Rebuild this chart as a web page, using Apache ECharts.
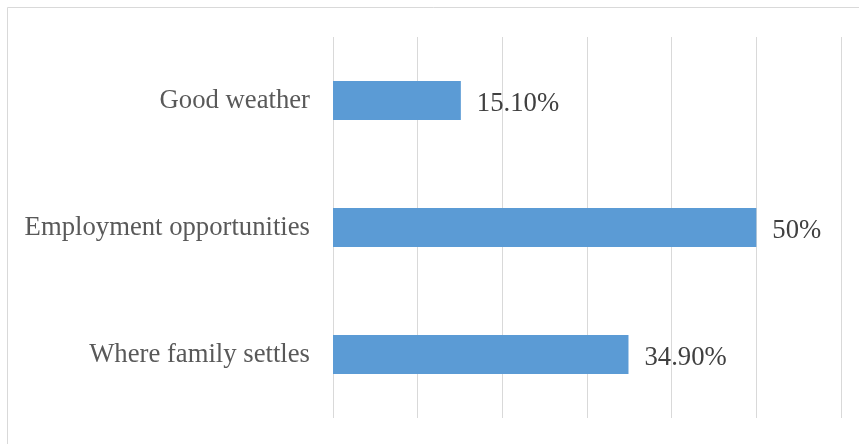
<!DOCTYPE html>
<html><head><meta charset="utf-8">
<script src="https://cdn.jsdelivr.net/npm/echarts@6/dist/echarts.min.js"></script>
<style>html,body{margin:0;padding:0;background:#fff}#c{width:859px;height:444px}</style>
</head><body><div id="c"></div>
<script>
const categories = ['Where family settles', 'Employment opportunities', 'Good weather'];
const values = [34.9, 50, 15.1];
const valueLabels = ['34.90%', '50%', '15.10%'];

const chart = echarts.init(document.getElementById('c'), null, {renderer: 'canvas'});
chart.setOption({
  animation: false,
  backgroundColor: '#fff',
  graphic: [{
    type: 'rect', shape: {x: 7.5, y: 7.5, width: 900, height: 500},
    style: {fill: 'none', stroke: '#d9d9d9', lineWidth: 1}, silent: true, z: -1
  }],
  grid: {left: 333, right: 18, top: 37, bottom: 26, containLabel: false},
  xAxis: {
    type: 'value', min: 0, max: 60, interval: 10,
    axisLabel: {show: false}, axisLine: {show: false}, axisTick: {show: false},
    splitLine: {show: true, lineStyle: {color: '#d9d9d9', width: 1}}
  },
  yAxis: {
    type: 'category', data: categories,
    axisLine: {show: false}, axisTick: {show: false},
    axisLabel: {color: '#595959', fontFamily: 'Liberation Serif', fontSize: 26.7, margin: 23, padding: [4, 0, 0, 0]}
  },
  series: [{
    type: 'bar', data: values, barWidth: 39,
    itemStyle: {color: '#5b9bd5'},
    label: {
      show: true, position: 'right', distance: 16, offset: [0, 3],
      color: '#404040', fontFamily: 'Liberation Serif', fontSize: 26.7,
      formatter: p => valueLabels[p.dataIndex]
    }
  }]
});
</script></body></html>
